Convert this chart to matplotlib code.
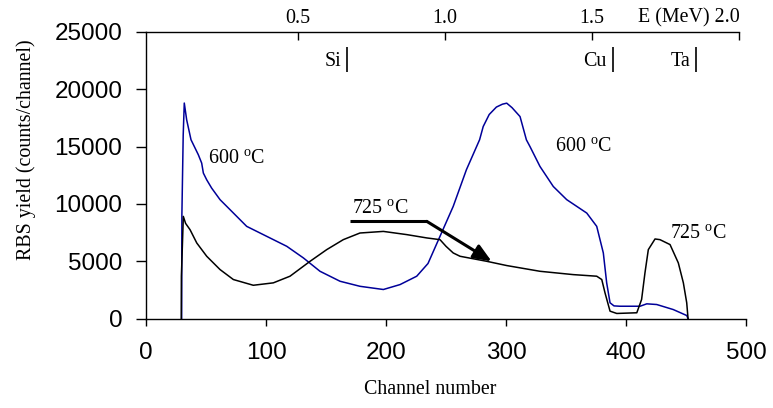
import numpy as np
import matplotlib.pyplot as plt

plt.rcParams['mathtext.fontset'] = 'custom'
plt.rcParams['mathtext.rm'] = 'Liberation Serif'

SERIF = 'Liberation Serif'
SANS = 'Liberation Sans'

# RBS spectra: channel, counts/channel
ch600 = [29.7, 29.9, 31.0, 31.9, 33.9, 37.5, 43.6, 46.4, 47.8, 50.6, 54.7, 61.7,
         70, 83.9, 100.6, 117.3, 131.1, 145, 161.7, 178.3, 197.8, 211.7, 225.6,
         235, 245, 256, 267, 278, 281, 286, 292, 297, 300.6, 305, 311.7, 317,
         320, 328.3, 339.4, 350.6, 367.3, 375.6, 381.1, 383.9, 386.7, 390, 395,
         411.7, 417.3, 425.6, 439.4, 450.6, 451.7]
y600 = [0, 9000, 16000, 18800, 17330, 15600, 14290, 13560, 12690, 12100, 11380,
        10370, 9500, 8040, 7170, 6300, 5290, 4120, 3250, 2810, 2530, 2960, 3690,
        4800, 7170, 9780, 12980, 15600, 16750, 17800, 18450, 18700, 18790, 18400,
        17620, 15590, 15000, 13270, 11520, 10370, 9200, 8040, 5720, 3110, 1370,
        1100, 1070, 1070, 1280, 1220, 780, 260, 0]

ch725 = [29.4, 29.5, 31.1, 33, 36.7, 42.3, 50.6, 61.7, 72.8, 89.4, 106.1, 120,
         136.7, 150.6, 164.4, 178.3, 197.8, 217.3, 234, 245, 250, 256, 261.7,
         284, 300.6, 328.3, 356, 375.6, 379.8, 382.5, 386.7, 392.3, 409, 413,
         415.8, 418.6, 424.2, 428.3, 436.7, 443.6, 447.8, 450.6, 451.7]
y725 = [0, 3700, 8910, 8300, 7750, 6590, 5430, 4270, 3400, 2900, 3110, 3690,
        4990, 6010, 6880, 7460, 7600, 7320, 7030, 6880, 6300, 5720, 5430, 4990,
        4620, 4120, 3830, 3690, 3400, 2240, 640, 440, 500, 1660, 3980, 6010,
        6940, 6880, 6450, 4850, 3110, 1370, 0]

# top energy scale: channel = e0 + gain * E
e0, gain = 3.7, 245.4
energy_ticks = [0.5, 1.0, 1.5, 2.0]
energy_labels = ['0.5', '1.0', '1.5', 'E (MeV) 2.0']

# surface edges of the elements
elements = ['Si', 'Cu', 'Ta']
edge_ch = [167.8, 388.9, 458.3]

blue = '#000099'

fig = plt.figure(figsize=(7.73, 4.08), dpi=100)
ax = fig.add_axes([146/773, 89.5/408, 600/773, 286.5/408])

ax.plot(ch600, y600, color=blue, lw=1.1)
ax.plot(ch725, y725, color='black', lw=1.1)

ax.set_xlim(0, 500)
ax.set_ylim(0, 25000)
ax.set_xticks(range(0, 501, 100))
ax.set_yticks(range(0, 25001, 5000))
ax.tick_params(axis='y', direction='out', length=7, width=1, pad=10,
               labelsize=17.5, labelfontfamily=SANS)
ax.tick_params(axis='x', direction='out', length=5, width=1, pad=12,
               labelsize=17.5, labelfontfamily=SANS)
ax.spines['top'].set_visible(False)
ax.spines['right'].set_visible(False)
for s in ['left', 'bottom']:
    ax.spines[s].set_linewidth(1)

# energy axis on top
top = ax.twiny()
top.set_xlim(ax.get_xlim())
top.set_xticks([e0 + gain*e for e in energy_ticks])
top.set_xticklabels(energy_labels, family=SERIF, fontsize=14.4)
top.get_xticklabels()[-1].set_ha('right')
top.tick_params(axis='x', direction='in', length=6, width=1, pad=3)
top.spines['top'].set_bounds(0, e0 + gain*energy_ticks[-1])
top.spines['top'].set_linewidth(1)
for s in ['left', 'right', 'bottom']:
    top.spines[s].set_visible(False)

# element markers
for name, c in zip(elements, edge_ch):
    ax.vlines(c, 21500, 23700, color='black', lw=1.2)
    ax.text(c - 5, 22400, name, ha='right', va='center', family=SERIF, fontsize=14.4)

# labels
lab = dict(family=SERIF, fontsize=14.4, va='center')
ax.text(52, 13900, r'600 $^{\mathrm{o}}$C', **lab)
ax.text(341, 14900, r'600 $^{\mathrm{o}}$C', **lab)
ax.text(171.5, 9550, r'725 $^{\mathrm{o}}$C', **lab)
ax.text(437, 7350, r'725 $^{\mathrm{o}}$C', **lab)

# arrow pointing to the 725 C plateau
ax.plot([170, 234], [8475, 8475], color='black', lw=2.2, solid_capstyle='butt')
ax.annotate('', xy=(288, 4990), xytext=(234, 8475),
            arrowprops=dict(arrowstyle='-|>,head_length=0.6,head_width=0.25',
                            lw=2.2, color='black', mutation_scale=18,
                            shrinkA=0, shrinkB=0))

fig.text(430/773, 1 - 389/408, 'Channel number', family=SERIF, fontsize=14.4,
         ha='center', va='center')
fig.text(26/773, 1 - 150/408, 'RBS yield (counts/channel)', family=SERIF,
         fontsize=14.4, rotation=90, ha='center', va='center')

fig.savefig('out.png', dpi=100)
